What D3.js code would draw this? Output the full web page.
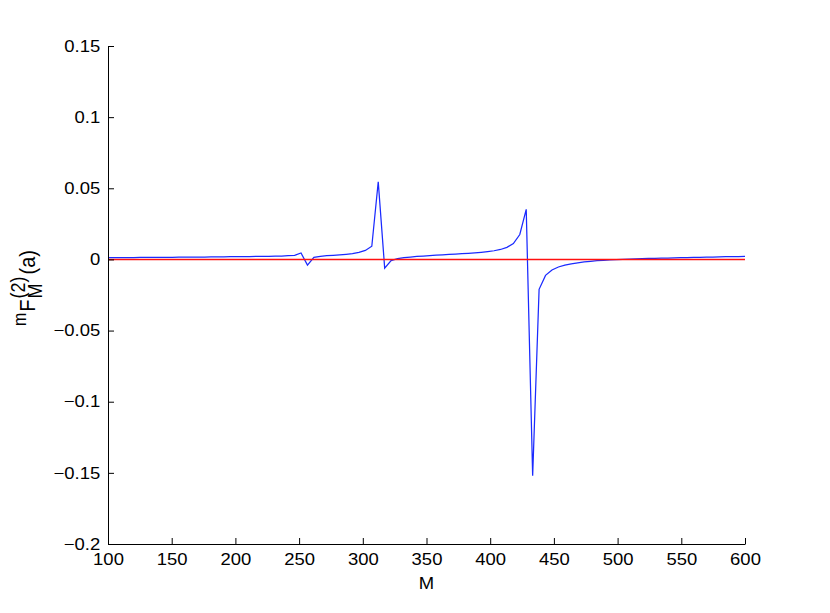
<!DOCTYPE html>
<html><head><meta charset="utf-8">
<script src="https://cdn.jsdelivr.net/npm/d3@7"></script>
<style>body{margin:0;background:#fff}svg{display:block}text{font-family:"Liberation Sans",Arial,sans-serif}</style>
</head><body><svg id="c" width="830" height="613"></svg>
<script>
const mValues = [100,105.05,110.10,115.15,120.20,125.25,130.30,135.35,140.40,145.45,
150.51,155.56,160.61,165.66,170.71,175.76,180.81,185.86,190.91,195.96,
201.01,206.06,211.11,216.16,221.21,226.26,231.31,236.36,241.41,246.46,
251.52,256.57,261.62,266.67,271.72,276.77,281.82,286.87,291.92,296.97,
302.02,307.07,312.12,317.17,322.22,327.27,332.32,337.37,342.42,347.47,
352.53,357.58,362.63,367.68,372.73,377.78,382.83,387.88,392.93,397.98,
403.03,408.08,413.13,418.18,423.23,428.28,433.33,438.38,443.43,448.48,
453.54,458.59,463.64,468.69,473.74,478.79,483.84,488.89,493.94,498.99,
504.04,509.09,514.14,519.19,524.24,529.29,534.34,539.39,544.44,549.49,
554.55,559.60,564.65,569.70,574.75,579.80,584.85,589.90,594.95,600];
const fValues = [0.0012,0.0012,0.0013,0.0013,0.0013,0.0014,0.0014,0.0014,0.0015,0.0015,
0.0015,0.0016,0.0016,0.0016,0.0017,0.0017,0.0018,0.0018,0.0018,0.0019,
0.0019,0.0020,0.0020,0.0021,0.0021,0.0022,0.0023,0.0024,0.0026,0.0029,
0.0045,-0.0040,0.0015,0.0022,0.0026,0.0029,0.0032,0.0036,0.0041,0.0049,
0.0063,0.0093,0.0546,-0.0061,-0.0008,0.0005,0.0012,0.0017,0.0021,0.0024,
0.0027,0.0030,0.0032,0.0035,0.0037,0.0040,0.0043,0.0046,0.0050,0.0055,
0.0061,0.0070,0.0085,0.0112,0.0175,0.0352,-0.1520,-0.0210,-0.0112,-0.0074,
-0.0053,-0.0040,-0.0031,-0.0024,-0.0018,-0.0013,-0.0009,-0.0006,-0.0003,-0.0001,
0.0001,0.0003,0.0004,0.0006,0.0007,0.0008,0.0009,0.0010,0.0011,0.0012,
0.0013,0.0014,0.0015,0.0016,0.0017,0.0018,0.0019,0.0020,0.0020,0.0021];
const zeroLineM = [100,600];
const zeroLineF = [0,0];
const xTicks = [100,150,200,250,300,350,400,450,500,550,600];
const yTicks = [0.15,0.1,0.05,0,-0.05,-0.1,-0.15,-0.2];
const yTickLabels = ["0.15","0.1","0.05","0","\u22120.05","\u22120.1","\u22120.15","\u22120.2"];

const L=108, R=745, T=46, B=544;
const svg=d3.select("#c");
const x=d3.scaleLinear().domain([100,600]).range([L,R]);
const y=d3.scaleLinear().domain([-0.2,0.15]).range([B,T]);

const line=d3.line().x(d=>x(d[0])).y(d=>y(d[1]));
svg.append("path").datum(mValues.map((m,i)=>[m,fValues[i]]))
  .attr("d",line).attr("fill","none").attr("stroke","#1a2aff").attr("stroke-width",1.25);
svg.append("path").datum(zeroLineM.map((m,i)=>[m,zeroLineF[i]]))
  .attr("d",line).attr("fill","none").attr("stroke","#ff1010").attr("stroke-width",1.5);

const xa=svg.append("g").attr("transform",`translate(0,${B})`)
  .call(d3.axisBottom(x).tickValues(xTicks).tickSizeInner(-6).tickSizeOuter(0).tickPadding(9).tickFormat(d3.format("d")));
const ya=svg.append("g").attr("transform",`translate(${L},0)`)
  .call(d3.axisLeft(y).tickValues(yTicks).tickSizeInner(-6).tickSizeOuter(0).tickPadding(7).tickFormat((d,i)=>yTickLabels[i]));
[xa,ya].forEach(g=>{g.select(".domain").attr("stroke","#000");g.selectAll(".tick line").attr("stroke","#000");
 g.selectAll("text").attr("font-size",16.5).attr("fill","#000").attr("font-family","Liberation Sans, Arial, sans-serif")
  .attr("transform","scale(1.12,1)");});

svg.append("text").attr("transform",`translate(${(L+R)/2},589) scale(1.12,1)`).attr("text-anchor","middle")
  .attr("font-size",16.5).text("M");

const yl=svg.append("text").attr("transform","translate(35,288) rotate(-90) scale(1,1.12)")
  .attr("text-anchor","middle").attr("font-size",20);
yl.append("tspan").attr("font-size",16).attr("dy",-8).text("m");
yl.append("tspan").attr("dx",1).attr("dy",8).text("F");
yl.append("tspan").attr("font-size",18).attr("dx",1).attr("dy",-9).text("(2)");
yl.append("tspan").attr("font-size",18).attr("dx",-22).attr("dy",15).text("M");
yl.append("tspan").attr("dx",9).attr("dy",-6).text("(a)");
</script></body></html>
